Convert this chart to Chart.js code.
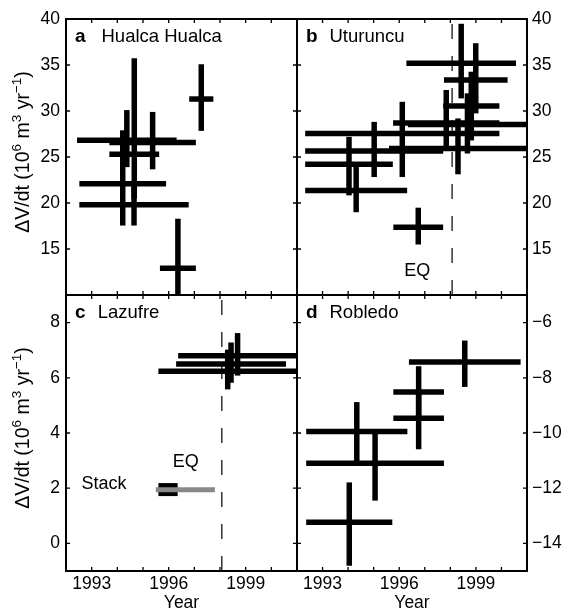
<!DOCTYPE html>
<html>
<head>
<meta charset="utf-8">
<script src="https://cdn.jsdelivr.net/npm/chart.js@4.4.1/dist/chart.umd.min.js"></script>
<style>
  body { margin: 0; background: #fff; }
  #wrap { position: relative; width: 571px; height: 612px; }
  #wrap canvas { position: absolute; left: 0; top: 0; }
</style>
</head>
<body>
<div id="wrap">
  <canvas id="pa" width="571" height="612"></canvas>
  <canvas id="pb" width="571" height="612"></canvas>
  <canvas id="pc" width="571" height="612"></canvas>
  <canvas id="pd" width="571" height="612"></canvas>
</div>
<script>
const FONT = "'Liberation Sans', Arial, Helvetica, sans-serif"

// earthquake date (dashed line in b and c)
const eqYear = 1998.07

const yearTicks = [1993, 1994, 1995, 1996, 1997, 1998, 1999, 2000]
const yearLabels = [1993, 1996, 1999]

// a Hualca Hualca
const aStart = [1992.43, 1993.69, 1993.69, 1992.52, 1992.52, 1995.66, 1996.80]
const aEnd   = [1996.31, 1997.06, 1995.63, 1995.90, 1996.78, 1997.06, 1997.74]
const aRate  = [26.83, 26.57, 25.30, 22.10, 19.80, 12.92, 31.30]
const aLow   = [23.90, 23.66, 20.50, 17.55, 17.55, 7.60, 27.84]
const aHigh  = [30.10, 29.90, 35.73, 27.90, 22.00, 18.29, 35.08]

// b Uturuncu
const bStart = [1996.28, 1997.75, 1997.72, 1995.76, 1996.34, 1992.32, 1992.32, 1995.60, 1992.32, 1992.32, 1995.77]
const bEnd   = [2000.57, 2000.24, 1999.92, 1999.92, 2001.00, 1999.92, 1997.72, 2001.00, 1995.75, 1996.31, 1997.72]
const bRate  = [35.18, 33.37, 30.53, 28.70, 28.54, 27.56, 25.66, 25.92, 24.21, 21.37, 17.37]
const bLow   = [31.37, 29.74, 26.80, 25.90, 25.38, 22.82, 22.82, 23.12, 20.83, 19.00, 15.49]
const bHigh  = [39.48, 37.37, 34.27, 32.28, 31.92, 31.00, 28.82, 29.19, 27.19, 24.10, 19.49]

// c Lazufre
const cStart = [1996.37, 1996.29, 1995.60]
const cEnd   = [2001.00, 2000.57, 2001.00]
const cRate  = [6.80, 6.50, 6.24]
const cLow   = [6.08, 5.82, 5.58]
const cHigh  = [7.62, 7.28, 7.02]

// c stack
const stackStart = [1995.60]
const stackEnd   = [1996.35]
const stackRate  = [1.95]
const stackSpanStart = [1995.50]
const stackSpanEnd   = [1997.80]
const stackSpanRate  = [1.94]

// d Robledo
const dStart = [1996.38, 1995.77, 1995.77, 1992.36, 1992.36, 1992.36]
const dEnd   = [2000.75, 1997.75, 1997.75, 1996.32, 1997.75, 1995.73]
const dRate  = [-7.43, -8.51, -9.47, -9.95, -11.10, -13.23]
const dLow   = [-8.33, -9.46, -10.59, -11.09, -12.45, -14.81]
const dHigh  = [-6.65, -7.58, -8.40, -8.88, -9.98, -11.79]

const abTicks = [15, 20, 25, 30, 35, 40]
const cTicks = [0, 2, 4, 6, 8]
const dTicks = [-14, -12, -10, -8, -6]

function seg(points, color, width, extra) {
  return Object.assign({
    data: points,
    borderColor: color,
    borderWidth: width,
    borderCapStyle: 'butt',
    pointRadius: 0,
    showLine: true,
    clip: 0,
    order: 2
  }, extra || {})
}

// each interferogram: horizontal bar for the time span, vertical bar for the error
function crosses(start, end, rate, low, high) {
  const out = []
  start.forEach((s, i) => {
    const mid = (s + end[i]) / 2
    out.push(seg([{ x: s, y: rate[i] }, { x: end[i], y: rate[i] }], '#000', 5.5))
    out.push(seg([{ x: mid, y: low[i] }, { x: mid, y: high[i] }], '#000', 5.5))
  })
  return out
}

function eqLine(ymin, ymax) {
  return seg([{ x: eqYear, y: ymax }, { x: eqYear, y: ymin }], '#333', 1.5,
    { borderDash: [15, 17], borderDashOffset: 27, order: 5 })
}

function drawYTitle(ctx, bx, cy) {
  const big = 19.5, small = 13.5
  const parts = [['\u0394V/dt (10', 0], ['6', 1], [' m', 0], ['3', 1], [' yr', 0], ['\u22121', 1], [')', 0]]
  let total = 0
  parts.forEach(p => {
    ctx.font = (p[1] ? small : big) + 'px ' + FONT
    total += ctx.measureText(p[0]).width
  })
  ctx.save()
  ctx.translate(bx, cy)
  ctx.rotate(-Math.PI / 2)
  ctx.textAlign = 'left'
  ctx.textBaseline = 'alphabetic'
  let x = -total / 2
  parts.forEach(p => {
    ctx.font = (p[1] ? small : big) + 'px ' + FONT
    ctx.fillText(p[0], x, p[1] ? -8 : 0)
    x += ctx.measureText(p[0]).width
  })
  ctx.restore()
}

function deco(p) {
  return {
    id: 'deco',
    afterDraw(chart) {
      const { ctx, chartArea, scales } = chart
      const { left, top, right, bottom } = chartArea
      const x = scales.x, y = scales.y
      ctx.save()
      ctx.strokeStyle = '#000'
      ctx.lineWidth = 1.3
      ctx.beginPath()
      yearTicks.forEach(v => {
        const px = x.getPixelForValue(v)
        ctx.moveTo(px, top); ctx.lineTo(px, top + 4)
        ctx.moveTo(px, bottom); ctx.lineTo(px, bottom - 4)
      })
      p.yTicks.forEach(v => {
        if (v <= y.min || v >= y.max) return
        const py = y.getPixelForValue(v)
        ctx.moveTo(left, py); ctx.lineTo(left + 4, py)
        ctx.moveTo(right, py); ctx.lineTo(right - 4, py)
      })
      ctx.stroke()
      ctx.lineWidth = 2
      ctx.strokeRect(left, top, right - left, bottom - top)

      ctx.fillStyle = '#000'
      ctx.textAlign = 'left'
      ctx.textBaseline = 'alphabetic'
      ctx.font = 'bold 19px ' + FONT
      ctx.fillText(p.letter, left + 9, top + 23)
      ctx.font = '18.5px ' + FONT
      ctx.fillText(p.name, left + p.nameDx, top + 23)

      ctx.textAlign = 'center'
      ctx.textBaseline = 'middle'
      ctx.font = '18px ' + FONT
      ;(p.notes || []).forEach(n => {
        ctx.fillText(n.text, x.getPixelForValue(n.x), y.getPixelForValue(n.y))
      })
      if (p.yTitle) drawYTitle(ctx, 29, p.yTitleY)
      ctx.restore()
    }
  }
}

function makePanel(id, o) {
  const xAxis = {
    type: 'linear', min: 1992, max: 2001, position: 'bottom'
  }
  if (o.bottom) {
    Object.assign(xAxis, {
      afterBuildTicks: s => { s.ticks = yearTicks.map(v => ({ value: v })) },
      afterFit: s => { s.height = 41 },
      grid: { display: false, drawTicks: false },
      border: { display: false },
      ticks: {
        autoSkip: false, maxRotation: 0, padding: 3, color: '#000',
        font: { size: 17.5 },
        callback: v => yearLabels.includes(v) ? String(v) : ''
      },
      title: { display: true, text: 'Year', color: '#000', padding: 0, font: { size: 17.5, lineHeight: 1 } }
    })
  } else {
    xAxis.display = false
  }
  const yAxis = {
    type: 'linear', min: o.ymin, max: o.ymax, position: o.ypos,
    afterBuildTicks: s => { s.ticks = o.yTicks.map(v => ({ value: v })) },
    afterFit: s => { s.width = 40 },
    grid: { display: false, drawTicks: false },
    border: { display: false },
    ticks: {
      padding: o.ypos === 'left' ? 6 : 5, color: '#000',
      font: { size: 17.5 },
      callback: v => v < 0 ? '\u2212' + Math.abs(v) : String(v)
    }
  }
  new Chart(document.getElementById(id), {
    type: 'scatter',
    data: { datasets: o.datasets },
    options: {
      responsive: false,
      animation: false,
      events: [],
      layout: { padding: o.padding },
      scales: { x: xAxis, y: yAxis },
      plugins: { legend: { display: false }, tooltip: { enabled: false } }
    },
    plugins: [deco(o)]
  })
}

Chart.defaults.font.family = FONT
Chart.defaults.color = '#000'

makePanel('pa', {
  letter: 'a', name: 'Hualca Hualca', nameDx: 35.5,
  ymin: 10, ymax: 40, ypos: 'left', yTicks: abTicks,
  padding: { left: 26, top: 19, right: 274, bottom: 317 },
  yTitle: true, yTitleY: 152,
  datasets: crosses(aStart, aEnd, aRate, aLow, aHigh)
})

makePanel('pb', {
  letter: 'b', name: 'Uturuncu', nameDx: 32.5,
  ymin: 10, ymax: 40, ypos: 'right', yTicks: abTicks,
  padding: { left: 297, top: 19, right: 4, bottom: 317 },
  notes: [{ text: 'EQ', x: 1996.71, y: 12.57 }],
  datasets: crosses(bStart, bEnd, bRate, bLow, bHigh).concat([eqLine(10, 40)])
})

makePanel('pc', {
  letter: 'c', name: 'Lazufre', nameDx: 31.7, bottom: true,
  ymin: -1, ymax: 9, ypos: 'left', yTicks: cTicks,
  padding: { left: 26, top: 295, right: 274, bottom: 0 },
  yTitle: true, yTitleY: 428,
  notes: [{ text: 'EQ', x: 1996.67, y: 2.95 }, { text: 'Stack', x: 1993.48, y: 2.15 }],
  datasets: crosses(cStart, cEnd, cRate, cLow, cHigh)
    .concat(stackStart.map((s, i) => seg([{ x: s, y: stackRate[i] }, { x: stackEnd[i], y: stackRate[i] }], '#000', 13)))
    .concat(stackSpanStart.map((s, i) => seg([{ x: s, y: stackSpanRate[i] }, { x: stackSpanEnd[i], y: stackSpanRate[i] }], '#888', 5, { order: 1 })))
    .concat([eqLine(-1, 9)])
})

makePanel('pd', {
  letter: 'd', name: 'Robledo', nameDx: 32.5, bottom: true,
  ymin: -15, ymax: -5, ypos: 'right', yTicks: dTicks,
  padding: { left: 297, top: 295, right: 4, bottom: 0 },
  datasets: crosses(dStart, dEnd, dRate, dLow, dHigh)
})
</script>
</body>
</html>
